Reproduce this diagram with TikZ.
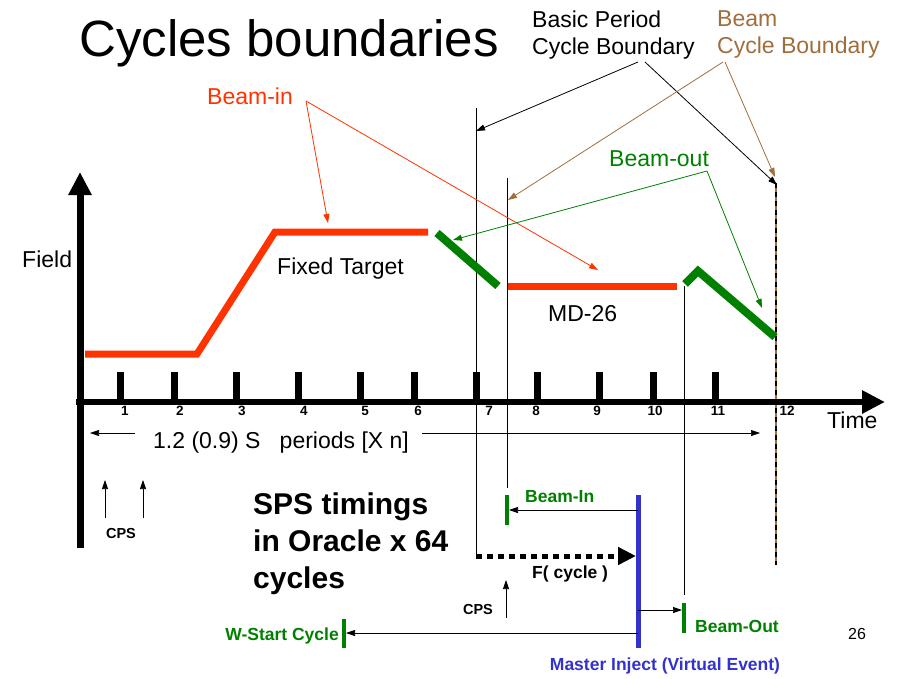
\documentclass[tikz,border=0pt]{standalone}
\usepackage{fontspec}
\setmainfont{Liberation Sans}
\usetikzlibrary{positioning, arrows.meta}

\definecolor{beamred}{RGB}{255,51,0}
\definecolor{beamgreen}{RGB}{0,128,0}
\definecolor{cbbrown}{RGB}{160,110,60}
\definecolor{injblue}{RGB}{51,51,204}

\tikzset{
  lbl/.style={inner sep=0pt, font=\fontsize{23}{27}\selectfont},
  tag/.style={inner sep=0pt, font=\fontsize{17.5}{21}\selectfont\bfseries},
  ticklbl/.style={inner sep=0pt, font=\fontsize{13.5}{15}\selectfont\bfseries},
  axis/.style={line width=7pt, -{Triangle[length=23pt,width=22pt]}},
  tick/.style={line width=7pt},
  bound/.style={line width=0.9pt},
  pointer/.style={line width=0.8pt, -{Triangle[length=9pt,width=6pt]}},
  field/.style={line width=7pt, color=beamred},
  beamout/.style={line width=8pt, color=beamgreen},
  marker/.style={line width=3.5pt, color=beamgreen}
}

\begin{document}
\begin{tikzpicture}[x=1pt, y=-1pt]
  \useasboundingbox (0,0) rectangle (902,678);

  \node[anchor=base west, inner sep=0pt, font=\fontsize{51}{60}\selectfont] (title) at (79,56) {Cycles boundaries};

  % cycle boundaries
  \coordinate (bp top) at (476,108);  \coordinate (bp bot) at (476,556);
  \coordinate (bc top) at (507,178);  \coordinate (bc bot) at (507,488);
  \coordinate (bo top) at (684,286);  \coordinate (bo bot) at (684,595);
  \coordinate (end top) at (776,183); \coordinate (end bot) at (776,565);
  \draw[bound] (bp top) -- (bp bot);
  \draw[bound] (bc top) -- (bc bot);
  \draw[bound] (bo top) -- (bo bot);
  \draw[line width=2.5pt, cbbrown] (end top) -- (end bot);
  \draw[line width=2.5pt, dash pattern=on 5pt off 4pt] (end top) -- (end bot);

  % field
  \draw[field] (85,354) -- (197,354) -- (275,232) -- (428,232);
  \draw[field] (508,286) -- (677,286);
  \draw[beamout] (437,233) -- (498,286);
  \draw[beamout] (685,284) -- (698,271) -- (775,337);

  % axes
  \coordinate (field top) at (80,172);
  \coordinate (time end) at (885,402);
  \draw[axis] (80,548) -- (field top);
  \draw[line width=6pt, -{Triangle[length=23pt,width=22pt]}] (76,402) -- (time end);
  \foreach \t/\l/\n in {120/125/1, 174/180/2, 236/242/3, 298/304/4, 360/365/5, 414/418/6,
                        476/489/7, 537/536/8, 599/597/9, 653/655/10, 715/718/11} {
    \draw[tick] (\t,372) -- (\t,402);
    \node[ticklbl] (tick \n) at (\l,411) {\n};
  }
  \node[ticklbl] (tick 12) at (787,411) {12};

  \node[lbl, anchor=base west] (field) at (22,267) {Field};
  \node[lbl, anchor=base west] (time) at (827,428) {Time};
  \node[lbl, anchor=base west] (ft) at (277,274) {Fixed Target};
  \node[lbl, anchor=base west] (md) at (548,321) {MD-26};

  % periods
  \node[lbl, anchor=base west] (periods) at (153,448) {1.2 (0.9) S\ \ \ periods [X n]};
  \coordinate (per left) at (90,433);
  \coordinate (per right) at (760,433);
  \draw[pointer, line width=0.6pt] (135,433) -- (per left);
  \draw[pointer, line width=0.6pt] (422,433) -- (per right);

  % legends
  \node[lbl, anchor=north west, align=left] (basic) at (532,10.5) {Basic Period\\Cycle Boundary};
  \node[lbl, anchor=north west, align=left, text=cbbrown] (beam cb) at (717,10.5) {Beam\\Cycle Boundary};
  \node[lbl, anchor=base west, text=beamred] (beam in) at (207,104) {Beam-in};
  \node[lbl, anchor=base west, text=beamgreen] (beam out) at (609,166) {Beam-out};

  \coordinate (basic a) at (638,62);  \coordinate (basic b) at (645,62);
  \coordinate (cb a) at (723,62);     \coordinate (cb b) at (725,62);
  \coordinate (bin a) at (306,101);
  \coordinate (bout a) at (707,171);
  \draw[pointer] (basic a) -- (476,131);
  \draw[pointer] (basic b) -- (777,185);
  \draw[pointer, cbbrown] (cb a) -- (508,200);
  \draw[pointer, cbbrown] (cb b) -- (775,177);
  \draw[pointer, beamred] (bin a) -- (328,223);
  \draw[pointer, beamred] (bin a) -- (598,270);
  \draw[pointer, beamgreen] (bout a) -- (453,240);
  \draw[pointer, beamgreen] (bout a) -- (762,308);

  % CPS
  \node[inner sep=0pt, font=\fontsize{14.5}{17}\selectfont\bfseries, anchor=base] (cps 1) at (121,538) {CPS};
  \draw[pointer, line width=0.7pt] (105,518) -- (105,480);
  \draw[pointer, line width=0.7pt] (143,518) -- (143,480);

  \node[anchor=north west, align=left, inner sep=0pt, font=\fontsize{30}{37}\selectfont\bfseries] (sps) at (253,493) {SPS timings\\in Oracle x 64\\cycles};

  % SPS timings
  \coordinate (inj top) at (638,495);
  \coordinate (inj bot) at (638,648);
  \draw[line width=5pt, injblue] (inj top) -- (inj bot);
  \node[tag, text=injblue, anchor=base] (master) at (665,670) {Master Inject (Virtual Event)};

  \draw[line width=5pt, dash pattern=on 6pt off 5pt, -{Triangle[length=18pt,width=17pt]}] (bp bot) -- (636,556);
  \node[tag, anchor=base west] (fcycle) at (532,578) {F( cycle )};

  \coordinate (bin mark) at (507,495);
  \draw[marker] (bin mark) -- (507,525);
  \node[tag, text=beamgreen, anchor=base west] (bin tag) at (525,502) {Beam-In};
  \draw[pointer, line width=0.7pt] (638,510) -- (509,510);

  \coordinate (ws mark) at (344,619);
  \draw[marker] (ws mark) -- (344,648);
  \node[tag, text=beamgreen, anchor=base east] (ws tag) at (339,640) {W-Start Cycle};
  \draw[pointer, line width=0.7pt] (638,633) -- (346,633);

  \coordinate (bout mark) at (684,603);
  \draw[marker] (bout mark) -- (684,633);
  \node[tag, text=beamgreen, anchor=base west] (bout tag) at (695,632) {Beam-Out};
  \draw[pointer, line width=0.7pt] (638,610) -- (682,610);

  \node[inner sep=0pt, font=\fontsize{14.5}{17}\selectfont\bfseries, anchor=base] (cps 2) at (478,614) {CPS};
  \draw[pointer, line width=0.7pt] (506,618) -- (506,580);

  \node[inner sep=0pt, font=\fontsize{16}{19}\selectfont, anchor=base west] (page) at (848,639) {26};
\end{tikzpicture}
\end{document}
